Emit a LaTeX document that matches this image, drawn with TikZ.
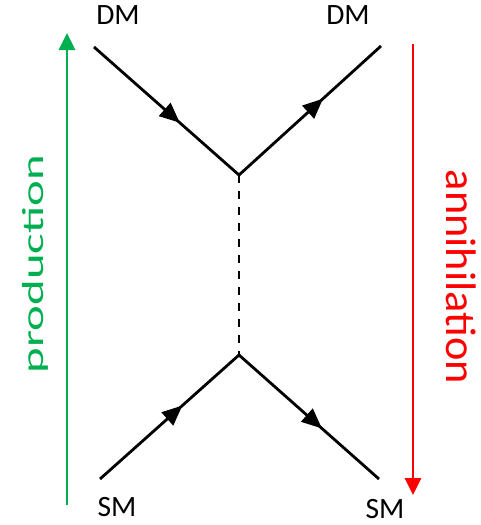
\documentclass[tikz,border=0pt]{standalone}
\usepackage{fontspec}
\setmainfont{Carlito}
\usetikzlibrary{arrows.meta,decorations.markings}
\definecolor{prodgreen}{RGB}{0,176,80}
\definecolor{annred}{RGB}{255,0,0}
\begin{document}
\begin{tikzpicture}[x=1pt,y=-1pt,
  fermion/.style={line width=2.8pt,
    postaction={decorate},
    decoration={markings,mark=at position 0.57 with
      {\fill (4pt,0pt) -- (-16pt,9pt) -- (-16pt,-9pt) -- cycle;}}},
  mediator/.style={line width=2.8pt,dash pattern=on 8pt off 8pt},
  label/.style={font=\fontsize{29.5}{30}\selectfont,inner sep=0pt},
  flow/.style={line width=2.8pt,-{Triangle[length=17pt,width=16pt]}}]
\useasboundingbox (0,0) rectangle (481,525);

% vertices and external legs
\coordinate (vt) at (239,175);
\coordinate (vb) at (239,355);
\coordinate (dmL) at (94,47);
\coordinate (dmR) at (381,46);
\coordinate (smL) at (100,479);
\coordinate (smR) at (379,479);

\draw[fermion] (dmL) -- (vt);
\draw[fermion] (vt) -- (dmR);
\draw[fermion] (smL) -- (vb);
\draw[fermion] (vb) -- (smR);
\draw[mediator] (vt) -- (vb);

% particle labels
\node[label] (ldmL) at (118,15) {DM};
\node[label] (ldmR) at (348,15) {DM};
\node[label] (lsmL) at (117,507) {SM};
\node[label] (lsmR) at (385,509) {SM};

% process direction arrows
\coordinate (pS) at (67,505);
\coordinate (pE) at (67,33);
\coordinate (aS) at (413,44);
\coordinate (aE) at (413,495);
\draw[flow,prodgreen] (pS) -- (pE);
\draw[flow,annred] (aS) -- (aE);

\node[inner sep=0pt,rotate=90,text=prodgreen] (tprod) at (35.5,264)
  {\resizebox*{218pt}{26pt}{production}};
\node[inner sep=0pt,rotate=-90,text=annred] (tann) at (461,277)
  {\resizebox*{214pt}{30pt}{annihilation}};
\end{tikzpicture}
\end{document}
